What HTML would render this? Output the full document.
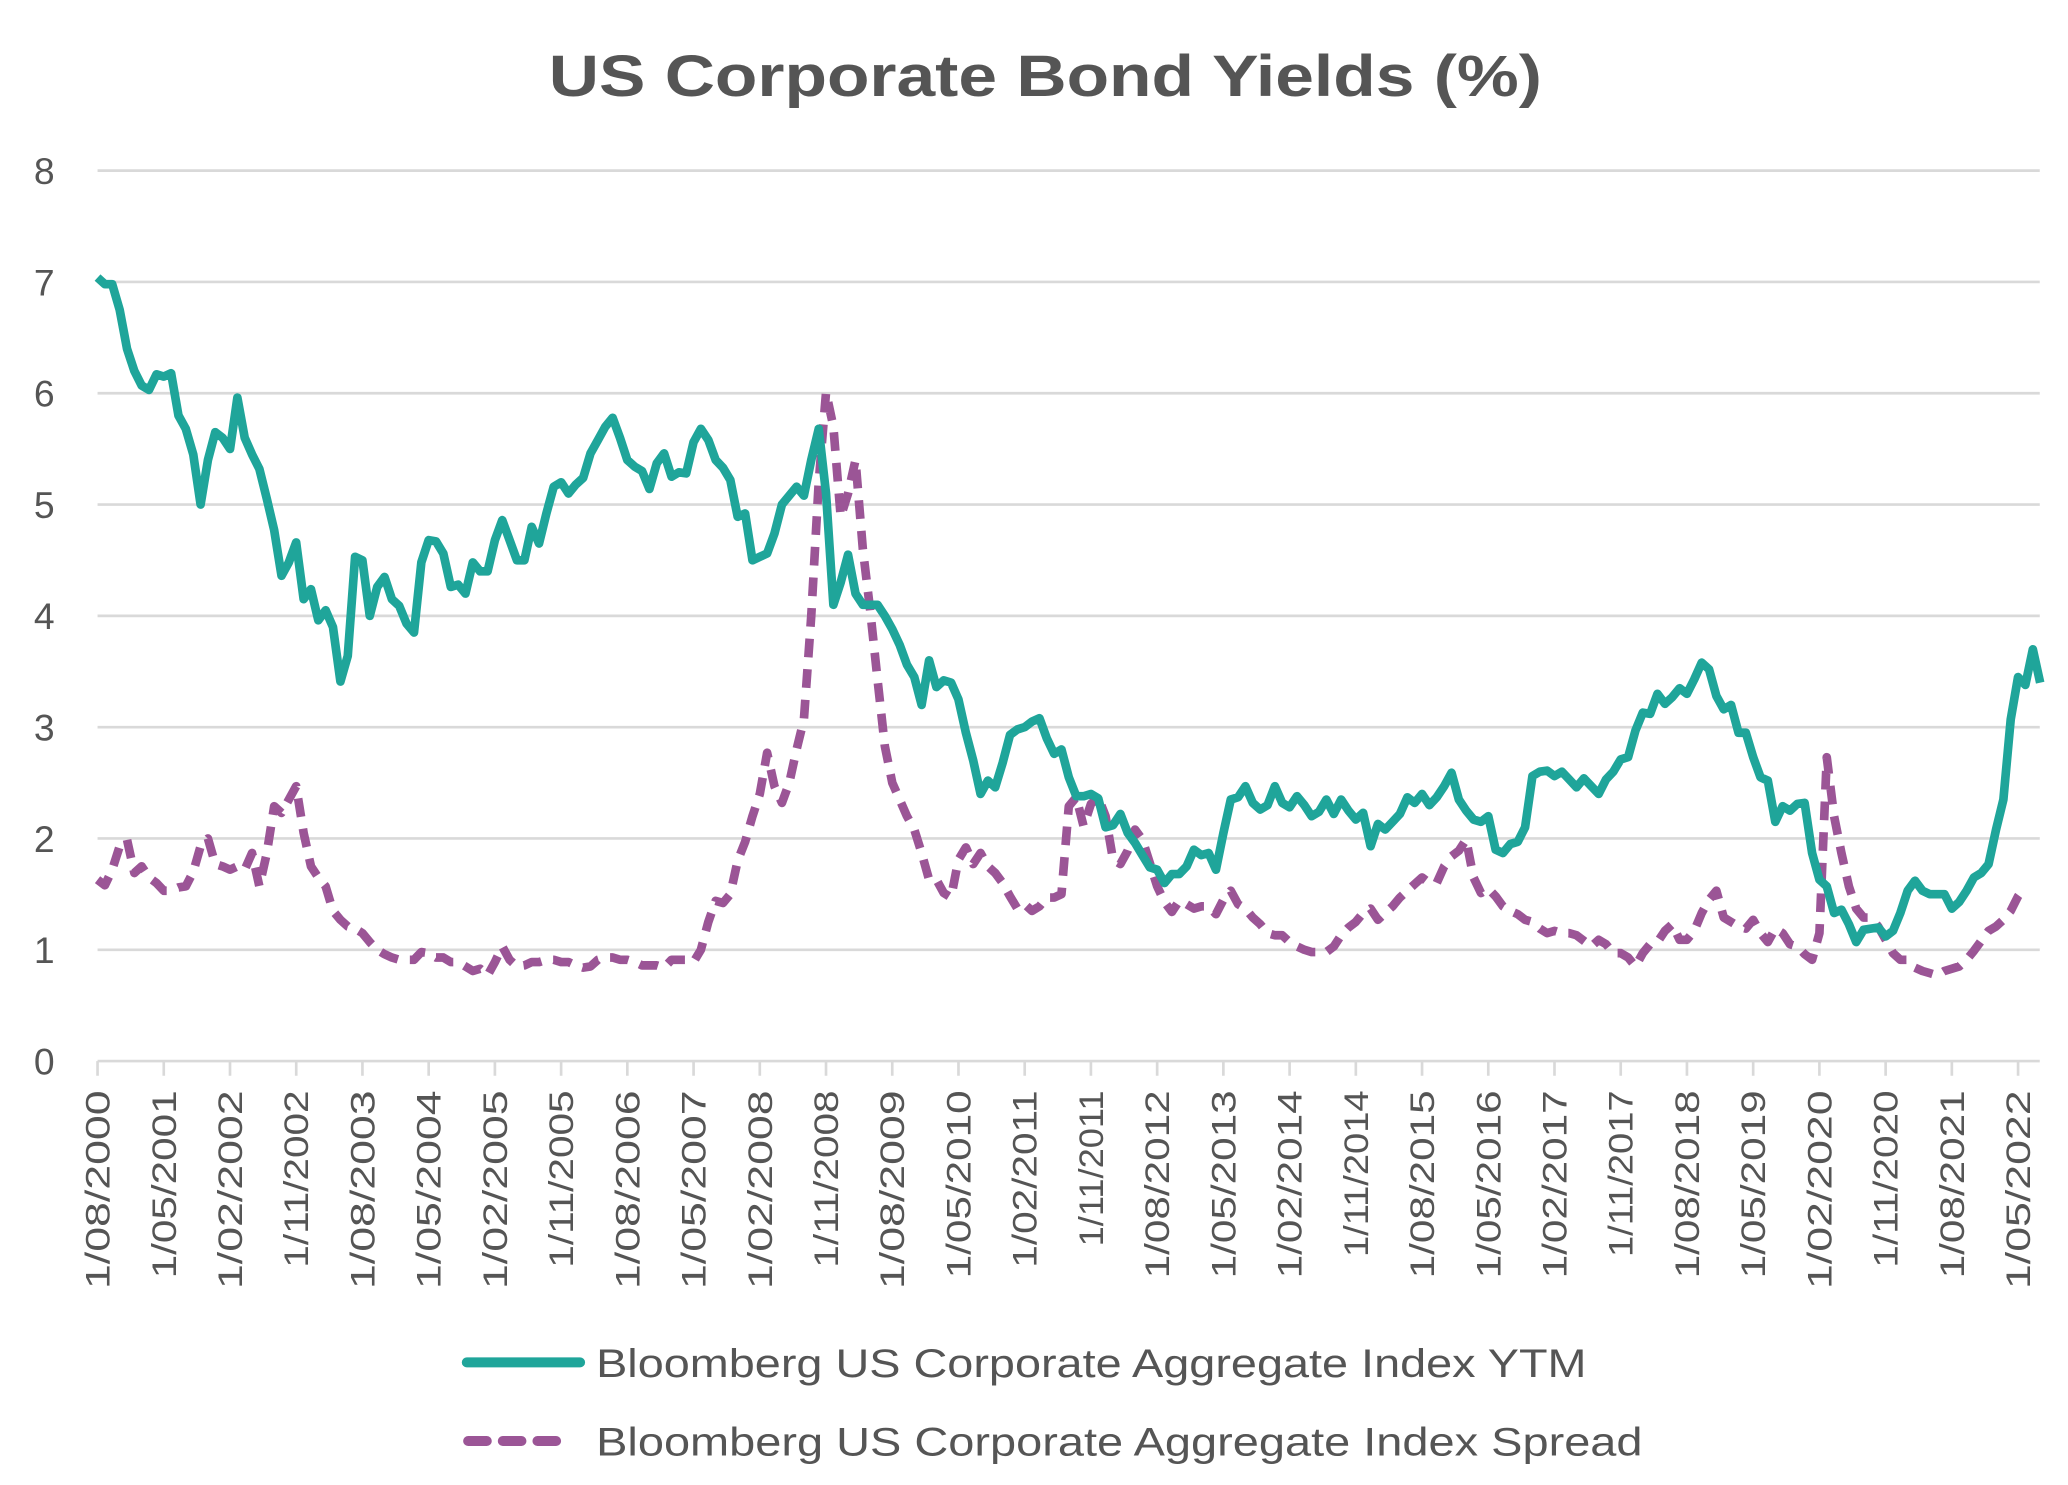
<!DOCTYPE html>
<html><head><meta charset="utf-8">
<style>
html,body{margin:0;padding:0;background:#fff;}
svg{display:block;font-family:"Liberation Sans",sans-serif;}
</style></head>
<body>
<svg id="chart" width="2068" height="1485" viewBox="0 0 1551 1114" xmlns="http://www.w3.org/2000/svg">
<text x="784" y="72" text-anchor="middle" font-size="44" font-weight="bold" fill="#555" textLength="745" lengthAdjust="spacingAndGlyphs">US Corporate Bond Yields (%)</text>
<g id="grid"></g>
<g id="yaxis"></g>
<g id="xaxis"></g>
<g id="series"></g>
<g>
  <g>
    <line x1="350" y1="1022" x2="435" y2="1022" stroke="#1fa59a" stroke-width="7.5" stroke-linecap="round"/>
    <text x="447" y="1033" font-size="30" fill="#555" textLength="743" lengthAdjust="spacingAndGlyphs">Bloomberg US Corporate Aggregate Index YTM</text>
  </g>
  <g>
    <line x1="351" y1="1081" x2="425" y2="1081" stroke="#9b5596" stroke-width="7.5" stroke-linecap="round" stroke-dasharray="14,12"/>
    <text x="447" y="1092" font-size="30" fill="#555" textLength="785" lengthAdjust="spacingAndGlyphs">Bloomberg US Corporate Aggregate Index Spread</text>
  </g>
</g>
</svg>
<script>
const startYear = 2000, startMonth = 8;
const yTicks = [0,1,2,3,4,5,6,7,8];
const xTickStep = 9;
const ytmValues = [
7.04,6.98,6.98,6.75,6.4,6.2,6.07,6.03,6.17,6.15,
6.18,5.8,5.68,5.45,5.0,5.4,5.65,5.6,5.5,5.96,
5.6,5.45,5.32,5.05,4.77,4.36,4.48,4.66,4.15,4.24,
3.96,4.05,3.9,3.41,3.64,4.53,4.5,4.0,4.26,4.35,
4.15,4.09,3.93,3.85,4.48,4.68,4.67,4.56,4.26,4.28,
4.2,4.48,4.4,4.4,4.68,4.86,4.68,4.5,4.5,4.8,
4.65,4.92,5.16,5.2,5.1,5.18,5.24,5.46,5.58,5.7,
5.78,5.6,5.4,5.34,5.3,5.14,5.37,5.46,5.25,5.29,
5.28,5.56,5.68,5.58,5.4,5.33,5.22,4.89,4.92,4.5,
4.53,4.56,4.74,5.0,5.08,5.16,5.08,5.4,5.68,5.1,
4.1,4.3,4.55,4.2,4.1,4.1,4.1,4.0,3.88,3.74,
3.56,3.45,3.2,3.6,3.36,3.42,3.4,3.25,2.95,2.7,
2.4,2.52,2.46,2.68,2.93,2.98,3.0,3.05,3.08,2.9,
2.76,2.8,2.55,2.38,2.38,2.4,2.36,2.1,2.12,2.22,
2.05,1.96,1.85,1.74,1.72,1.6,1.68,1.68,1.75,1.9,
1.85,1.87,1.72,2.05,2.35,2.37,2.47,2.32,2.26,2.3,
2.47,2.32,2.28,2.38,2.3,2.2,2.24,2.35,2.22,2.35,
2.25,2.17,2.23,1.93,2.13,2.08,2.15,2.22,2.37,2.32,
2.4,2.3,2.37,2.47,2.59,2.35,2.25,2.17,2.15,2.2,
1.9,1.87,1.95,1.97,2.1,2.56,2.6,2.61,2.56,2.6,
2.53,2.46,2.54,2.47,2.4,2.53,2.6,2.71,2.73,2.97,
3.13,3.12,3.3,3.21,3.27,3.35,3.3,3.43,3.58,3.52,
3.28,3.16,3.2,2.95,2.95,2.73,2.55,2.52,2.15,2.29,
2.25,2.31,2.32,1.87,1.63,1.57,1.33,1.36,1.23,1.07,
1.18,1.19,1.2,1.12,1.17,1.33,1.53,1.62,1.53,1.5,
1.5,1.5,1.37,1.43,1.53,1.65,1.69,1.77,2.08,2.35,
3.07,3.45,3.38,3.7,3.4];
const spreadValues = [
1.63,1.58,1.72,1.93,1.99,1.69,1.75,1.65,1.6,1.53,
1.53,1.56,1.57,1.7,1.93,2.0,1.77,1.75,1.72,1.75,
1.72,1.87,1.57,1.87,2.29,2.23,2.35,2.47,2.05,1.75,
1.65,1.57,1.35,1.27,1.21,1.19,1.15,1.07,1.0,0.96,
0.93,0.91,0.91,0.91,0.98,0.97,0.93,0.93,0.89,0.89,
0.85,0.81,0.83,0.77,0.89,1.03,0.91,0.85,0.86,0.89,
0.89,0.91,0.91,0.89,0.89,0.86,0.84,0.85,0.91,0.93,
0.93,0.91,0.91,0.89,0.86,0.86,0.86,0.84,0.91,0.91,
0.91,0.89,1.0,1.25,1.44,1.42,1.5,1.8,1.97,2.2,
2.4,2.77,2.47,2.32,2.5,2.8,3.07,4.0,5.2,6.01,
5.7,4.89,5.1,5.4,4.6,4.05,3.43,2.83,2.5,2.35,
2.2,2.08,1.87,1.63,1.63,1.51,1.47,1.81,1.92,1.77,
1.87,1.75,1.69,1.6,1.48,1.37,1.41,1.35,1.39,1.47,
1.47,1.5,2.29,2.37,2.11,2.31,2.37,2.2,1.81,1.77,
1.89,2.08,1.99,1.78,1.57,1.43,1.34,1.44,1.41,1.37,
1.39,1.39,1.32,1.45,1.53,1.41,1.37,1.29,1.23,1.15,
1.13,1.13,1.07,1.03,1.0,0.98,0.98,0.98,1.03,1.13,
1.2,1.25,1.33,1.37,1.27,1.33,1.39,1.47,1.53,1.59,
1.65,1.6,1.6,1.75,1.84,1.89,1.99,1.65,1.51,1.55,
1.48,1.39,1.35,1.32,1.27,1.25,1.19,1.15,1.17,1.15,
1.15,1.13,1.08,1.03,1.09,1.05,0.97,0.97,0.93,0.85,
0.97,1.05,1.07,1.17,1.23,1.09,1.09,1.17,1.33,1.45,
1.53,1.29,1.25,1.21,1.19,1.27,1.15,1.07,1.19,1.15,
1.05,1.03,0.96,0.91,1.15,2.73,2.2,1.87,1.57,1.37,
1.29,1.29,1.21,1.09,0.97,0.91,0.91,0.84,0.81,0.79,
0.77,0.81,0.83,0.85,0.91,0.99,1.08,1.17,1.21,1.27,
1.35,1.48,1.57];

const NS = "http://www.w3.org/2000/svg";
const X0 = 73, X1 = 1530, Y0 = 796, Y8 = 128;
const pxPerMonth = 5.52;
function xScale(i){ return X0 + i * pxPerMonth; }
function yScale(v){ return Y0 - (v / 8) * (Y0 - Y8); }
function mk(tag, attrs, parent){
  const el = document.createElementNS(NS, tag);
  for (const k in attrs) el.setAttribute(k, attrs[k]);
  parent.appendChild(el);
  return el;
}
const grid = document.getElementById('grid');
const yaxis = document.getElementById('yaxis');
const xaxis = document.getElementById('xaxis');
const series = document.getElementById('series');

yTicks.forEach(t => {
  const y = yScale(t);
  if (t > 0) {
    const g = mk('line', {x1:X0, x2:X1, y1:y, y2:y, stroke:'#d9d9d9', 'stroke-width':2}, grid);
    
    
  }
  const lb = mk('text', {x:33, y:y+10, 'text-anchor':'middle', 'font-size':28, fill:'#555'}, yaxis);
  lb.textContent = t;
  
  
});
const ax = mk('line', {x1:X0, x2:X1, y1:Y0, y2:Y0, stroke:'#d9d9d9', 'stroke-width':2}, xaxis);



function labelFor(i){
  const m0 = startMonth - 1 + i;
  const y = startYear + Math.floor(m0 / 12);
  const m = (m0 % 12) + 1;
  return '1/' + (m < 10 ? '0' + m : m) + '/' + y;
}
function labelWidth(s){
  let w = 0;
  for (const c of s) w += (c === '1') ? 11 : (c === '/') ? 12 : 19;
  return w;
}
for (let i = 0; i <= ytmValues.length - 1; i += xTickStep) {
  const x = xScale(i);
  const tk = mk('line', {x1:x, x2:x, y1:Y0, y2:Y0+11, stroke:'#d9d9d9', 'stroke-width':2}, xaxis);
  
  
  const s = labelFor(i);
  const tx = mk('text', {x:0, y:0, 'text-anchor':'end', 'font-size':26, fill:'#555',
    transform:'translate(' + (x+9) + ',' + (Y0+22) + ') rotate(-90)',
    textLength: labelWidth(s), lengthAdjust:'spacingAndGlyphs'}, xaxis);
  tx.textContent = s;
  
  
}
function pathFor(vals){
  return vals.map((v, i) => (i ? 'L' : 'M') + xScale(i).toFixed(1) + ',' + yScale(v).toFixed(1)).join(' ');
}
const sp = mk('path', {d:pathFor(spreadValues), fill:'none', stroke:'#9b5596', 'stroke-width':6.5,
  'stroke-dasharray':'14,9', 'stroke-linejoin':'round'}, series);


const yt = mk('path', {d:pathFor(ytmValues), fill:'none', stroke:'#1fa59a', 'stroke-width':6.5,
  'stroke-linejoin':'round'}, series);


</script>
</body></html>
